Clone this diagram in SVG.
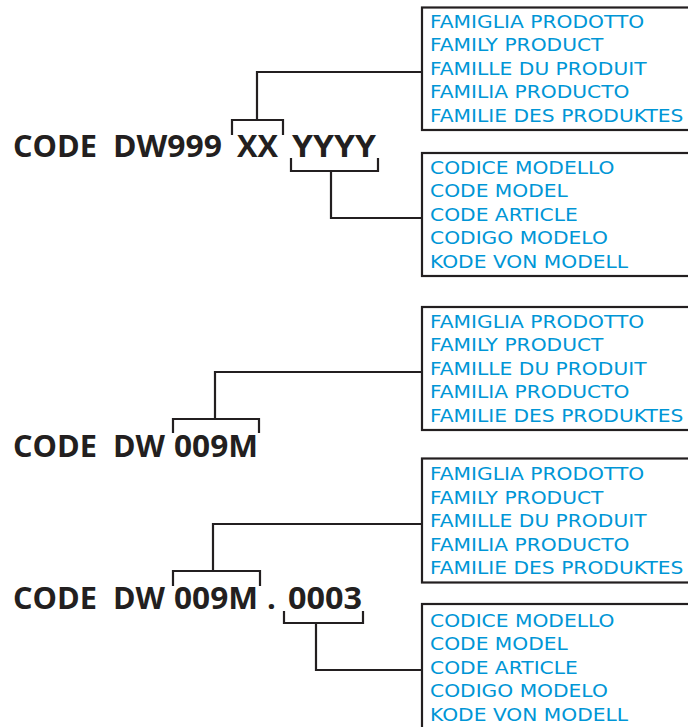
<svg xmlns="http://www.w3.org/2000/svg" width="688" height="727" viewBox="0 0 688 727">
<style>
.code{font-family:"Open Sans","Liberation Sans",sans-serif;font-weight:700;font-size:31px;fill:#231f20}
.lbl{font-family:"DejaVu Sans","Liberation Sans",sans-serif;font-size:18px;fill:#0096d6}
.box{fill:#fff;stroke:#231f20;stroke-width:2.2}
.ln{fill:none;stroke:#231f20;stroke-width:2.2}
</style>
<rect width="688" height="727" fill="#fff"/>
<g id="code1">
<text class="code" x="13" y="157" textLength="84" lengthAdjust="spacingAndGlyphs">CODE</text>
<text class="code" x="113" y="157" textLength="109" lengthAdjust="spacingAndGlyphs">DW999</text>
<text class="code" x="237" y="157" textLength="41" lengthAdjust="spacingAndGlyphs">XX</text>
<text class="code" x="292" y="157" textLength="84" lengthAdjust="spacingAndGlyphs">YYYY</text>
</g>
<g id="code2">
<text class="code" x="13" y="457" textLength="84" lengthAdjust="spacingAndGlyphs">CODE</text>
<text class="code" x="113" y="457" textLength="52" lengthAdjust="spacingAndGlyphs">DW</text>
<text class="code" x="174" y="457" textLength="84" lengthAdjust="spacingAndGlyphs">009M</text>
</g>
<g id="code3">
<text class="code" x="13" y="609" textLength="84" lengthAdjust="spacingAndGlyphs">CODE</text>
<text class="code" x="113" y="609" textLength="52" lengthAdjust="spacingAndGlyphs">DW</text>
<text class="code" x="174" y="609" textLength="84" lengthAdjust="spacingAndGlyphs">009M</text>
<text class="code" x="267" y="609">.</text>
<text class="code" x="288" y="609" textLength="74" lengthAdjust="spacingAndGlyphs">0003</text>
</g>
<g id="connectors">
<path class="ln" d="M232,135 V120 H283 V135 M257,120 V72 H422"/>
<path class="ln" d="M291,158 V171 H378 V158 M331,171 V218 H422"/>
<path class="ln" d="M173,433 V419 H259 V433 M215,419 V372 H422"/>
<path class="ln" d="M173,586 V571 H260 V586 M213,571 V524 H422"/>
<path class="ln" d="M284,611 V623 H363 V611 M316,623 V670 H422"/>
</g>
<g id="box1">
<rect class="box" x="422" y="7.5" width="280" height="122.5"/>
<g transform="matrix(1.125,0,0,1,430,0)">
<text class="lbl" x="0" y="28">FAMIGLIA PRODOTTO</text>
<text class="lbl" x="0" y="51.5">FAMILY PRODUCT</text>
<text class="lbl" x="0" y="75">FAMILLE DU PRODUIT</text>
<text class="lbl" x="0" y="98.5">FAMILIA PRODUCTO</text>
<text class="lbl" x="0" y="122">FAMILIE DES PRODUKTES</text>
</g>
</g>
<g id="box2">
<rect class="box" x="422" y="153" width="280" height="123"/>
<g transform="matrix(1.125,0,0,1,430,0)">
<text class="lbl" x="0" y="174">CODICE MODELLO</text>
<text class="lbl" x="0" y="197.5">CODE MODEL</text>
<text class="lbl" x="0" y="221">CODE ARTICLE</text>
<text class="lbl" x="0" y="244.5">CODIGO MODELO</text>
<text class="lbl" x="0" y="268">KODE VON MODELL</text>
</g>
</g>
<g id="box3">
<rect class="box" x="422" y="307" width="280" height="123"/>
<g transform="matrix(1.125,0,0,1,430,0)">
<text class="lbl" x="0" y="328">FAMIGLIA PRODOTTO</text>
<text class="lbl" x="0" y="351.5">FAMILY PRODUCT</text>
<text class="lbl" x="0" y="375">FAMILLE DU PRODUIT</text>
<text class="lbl" x="0" y="398.5">FAMILIA PRODUCTO</text>
<text class="lbl" x="0" y="422">FAMILIE DES PRODUKTES</text>
</g>
</g>
<g id="box4">
<rect class="box" x="422" y="458.5" width="280" height="124"/>
<g transform="matrix(1.125,0,0,1,430,0)">
<text class="lbl" x="0" y="480.5">FAMIGLIA PRODOTTO</text>
<text class="lbl" x="0" y="504">FAMILY PRODUCT</text>
<text class="lbl" x="0" y="527.5">FAMILLE DU PRODUIT</text>
<text class="lbl" x="0" y="551">FAMILIA PRODUCTO</text>
<text class="lbl" x="0" y="574.5">FAMILIE DES PRODUKTES</text>
</g>
</g>
<g id="box5">
<rect class="box" x="422" y="604" width="280" height="140"/>
<g transform="matrix(1.125,0,0,1,430,0)">
<text class="lbl" x="0" y="627">CODICE MODELLO</text>
<text class="lbl" x="0" y="650.5">CODE MODEL</text>
<text class="lbl" x="0" y="674">CODE ARTICLE</text>
<text class="lbl" x="0" y="697.5">CODIGO MODELO</text>
<text class="lbl" x="0" y="721">KODE VON MODELL</text>
</g>
</g>
</svg>
